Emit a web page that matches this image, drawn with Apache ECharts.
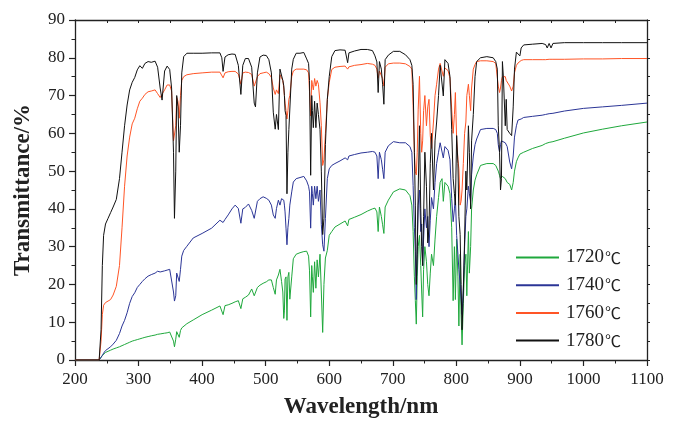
<!DOCTYPE html>
<html><head><meta charset="utf-8">
<script src="https://cdn.jsdelivr.net/npm/echarts@6/dist/echarts.min.js"></script>
<style>html,body{margin:0;padding:0;background:#fff}#c{width:679px;height:424px}</style>
</head><body><div id="c"></div>
<script>
const wavelength=[200,238,241,243,245,248,252,256,260,265,270,274,278,282,286,290,294,298,302,306,310,315,320,326,330,334,337,341,345,349,352,355,356.5,358.5,360,362,364,366,368,371,376,386,400,415,428,431,433,436,441,447,452,457,461,464,468,473,478,482,484,487,491,496,501,505,509,512,515,517,520,522.5,525,527,528.5,529.5,530.5,532,533.5,535,536.5,538,541,543.5,548,554,560,564.5,567.5,569,570.8,572.5,573.5,575,577,579,581,583,585.5,587.6,589.7,591.7,594,597,600,604,609,617,625,627.5,629,631,640,650,660,668,672,675,677,679,682,684,686,688,693,701,711,720,727,730,732,734,735.5,737,738.5,740,742,744,745.5,747,748.5,750.5,753,755,757,759,761,764,766.5,769,772,774.5,777.5,779.5,782,787,790,792.7,795,797,798.5,800.5,802.5,804,806,807.5,809,811,813,815,816.5,819,820.5,822.5,824,826.7,829.4,832,838,848,858,862,864.5,866,868,869.5,871,872.5,874,877,878.5,880,884,887,889.5,891.5,894.5,897,900,902,906,920,935,940.5,943,946,949,952,970,1000,1030,1060,1100];
const t1780=[0,0,8,25,33,36,37.5,39,40.5,42.5,48,55,62,67.5,71.5,73.5,74.8,76.8,77.9,77.2,78.5,79,78.8,79.1,77.5,72,68.8,76.5,77.8,76.9,72,55,37.5,50,70,67,55,62,76,80.3,81.2,81.2,81.2,81.3,81.3,80,76.4,80.2,80.8,81,80.9,78,70.3,78,79.8,79.8,77.5,68,67,76,80.2,80.7,80.6,79.5,76,65.6,61.1,65,61,77,77.5,74,72.6,70,66,64.7,44,55,61,60.5,77,79.6,81.2,81.2,81.4,79.7,78.5,74,48.9,70,66,61.5,68.5,61.5,68,65,61,50,33.2,37.5,57,69,75,80.3,81.9,82.1,82,81.5,78.7,81.3,81.8,82.2,82.2,81.9,80.5,78.9,70.8,79,77,73,67.7,79.5,80.7,81.7,81.7,80.8,79.5,78,73,55,41,20,28,45,62,40,30,25,38,55,46,31,35,52,60,45,58,63,70,78,78.5,69.9,79.5,78.5,75,61,48,44,41,59.4,52,38,33.2,20,8,18,32,50,45,62,55,40,58,65,75,79,80,80.3,80,79,77,62,55,45,48,79,75,62,69,61,60,59.4,67,77,81.5,81,80.5,82.6,83.4,83.6,83.8,83.5,82.6,83.8,82.6,83.8,84,84,84,84,84];
const t1760=[0,0,5,12,14.5,15.2,15.6,16,17.2,19.5,25,35,46,54,59,62.5,64,66.5,68.5,69.3,70.3,71,71.2,71.5,70.5,69.5,69.2,71.5,72.8,72.8,71.2,58,57.5,62,69.5,68.5,64,70,74,75,75.5,75.8,76,76.2,76.2,75.8,74.7,76,76.3,76.4,76.4,75.7,73,76,76.2,76.1,75.6,72.5,72,75,75.8,76,76.2,75.8,74.8,72,70.3,71.5,70.5,75.5,76,74,72,70,68,66,63.8,66,69,70,75,76.5,77,77,77,76.8,76,71,64.6,74,73,71.5,74.5,72.5,74,73,68.1,62,51.5,53,60,69,73.5,76.9,77.5,77.7,77.8,77.7,77,77.6,78,78.2,78.5,78.3,78,77,74.6,76.5,76,74.5,72.5,77.5,78.4,78.6,78.6,78.4,77.7,77,67.3,55,49.8,49,55,66.4,75.1,60,55,58,66,70,62,67,69,59.4,56,63,70,73,77,78.5,78.2,75.1,77.3,76.6,74.6,66.4,60,65,70.8,58.5,53,50.6,41,42,45,52,60,63,70,73,70,66,72,77,78.2,79,79.2,79.2,79,78.5,78,72.5,70.8,72,74,75,74.6,75,74,73.5,72.5,71.2,72.5,76,78,78.6,79,79.3,79.5,79.5,79.5,79.5,79.2,79.6,79.3,79.6,79.6,79.7,79.7,79.8,79.8];
const t1740=[0,0,0.5,1.2,1.8,2.5,3,3.5,4.2,5.2,7,9,10.5,12.5,15,16.8,17.8,19.2,20,20.8,21.5,22.2,22.6,23,23.5,23.3,23,23.6,23.8,24,23.6,18,15.6,17,23,22.5,20.8,24,27.5,29,30.1,32.3,33.5,34.9,37,36.8,36.4,37.2,38.4,40,41,40.1,36.2,40,40.4,41.3,39.6,37.5,37.5,42,42.7,43.2,42.8,42.3,41,38.4,37.5,40.1,42.3,41,42.7,42.5,42.3,41,39.2,34.9,30.5,35,37.5,41,44.5,47.1,48,48.3,48.6,47.4,46,44.5,34.9,46,44,41,46,42.7,46,42,45,35.8,30.5,28.8,37.5,48,50.6,51.5,52,52.7,53.5,54,53,54,54.4,54.8,55,55.2,55,54,48,55,53,50.5,48,55,56.7,57.8,57.5,57.5,56.5,55,46.2,35,28.8,16,30,41,45,34,36,25,32,40,35,38,30,37,43,40,47,52,55,57.5,57.6,53.5,56.5,55.5,53,42.7,36.6,40,43,33,28,24,20,16,12,19,30,38,40,46,44,42,49,54,57,58.5,61,61.3,61.3,61,60,57,55,57,58,58.5,58.5,57.5,57,56.5,52.4,50.6,54,59,62,63.5,63.8,63.8,64.2,64.5,64.8,65,64.5,65.2,64.8,65.3,65.9,66.6,67,67.4,68];
const t1720=[0,0,0.5,1.2,1.6,2,2.3,2.6,2.9,3.2,3.5,3.8,4.1,4.4,4.7,5,5.2,5.4,5.6,5.8,6,6.2,6.4,6.6,6.8,6.9,7,7.1,7.2,7.4,7.3,5,3.5,5.5,7.5,7.2,6,7.8,8.5,9,9.6,10.6,12,13.2,14.3,13.8,12,14.4,14.6,15,15.4,15.7,13.6,16.2,16.6,17.2,18.8,17,17,19.2,19.8,20.3,20.7,21.2,21.2,19.2,17.4,21.2,22.5,24,20.8,18,11,13,21.4,22,10.5,22,23.2,16.1,22,26.8,28,28.4,28.7,28.8,27.5,23.6,11.4,25,22,17.9,26,19,26.5,22,28,18,7.3,20,27,29,33,34,35.2,36,36.8,37,35.5,37.2,37.8,38.5,39.4,40,40.2,39.2,34,40.5,38,35.8,33.5,40.5,42.3,44.5,45.3,45,43.5,41,34,22,15.7,9.5,22,30,33,25,18,11.4,24,30,26,20,17,23,28,25,32,38,43,47,48,42,47,46,44,35,15.7,30,16,32,22,9,28,12,4,15,25,28,17,34,23,30,40,45,47.6,49,51.5,52,52,51.5,51,50,48.9,48,48.3,48.6,48.5,48,47.5,47,46.5,45,47,50,52.5,53.5,54.5,54.7,55,56,56.8,57.3,57.1,57.6,57.5,57.8,58.7,60.1,61.1,62,63];
const seriesTemps=['1720','1740','1760','1780'];
const unit='℃';
const seriesNames=seriesTemps.map(t=>t+unit);
const seriesColors=['#1fa83c','#2b3596','#ff5526','#111111'];
const seriesValues=[t1720,t1740,t1760,t1780];
const xTicks={min:200,max:1100,step:100};
const yTicks={min:0,max:90,step:10};

const serif="'Liberation Serif','Times New Roman',serif";
const chart=echarts.init(document.getElementById('c'),null,{renderer:'canvas'});
const axisLineStyle={color:'#222',width:1.3};
chart.setOption({
  animation:false,
  backgroundColor:'#fff',
  grid:{left:75,right:32,top:20,bottom:61,containLabel:false},
  legend:{
    orient:'vertical',left:511,top:243,itemWidth:43,itemHeight:2,itemGap:8.7,icon:'rect',
    formatter:function(name){return '{a|'+name.slice(0,4)+'}{b|'+unit+'}';},
    textStyle:{color:'#222',padding:[0,0,0,2],
      rich:{a:{fontFamily:serif,fontSize:19,color:'#222',lineHeight:18},
            b:{fontFamily:"'Noto Sans CJK SC',sans-serif",fontSize:16,color:'#222',lineHeight:18,padding:[0,0,0,1]}}},
    data:seriesNames
  },
  xAxis:[
    {type:'value',position:'bottom',min:xTicks.min,max:xTicks.max,interval:xTicks.step,
     axisLine:{show:true,onZero:false,lineStyle:axisLineStyle},
     axisTick:{show:true,inside:false,length:6,lineStyle:{color:'#222',width:1.2}},
     minorTick:{show:true,splitNumber:2,length:3.5,lineStyle:{color:'#222',width:1}},
     splitLine:{show:false},
     axisLabel:{fontFamily:serif,fontSize:17,color:'#222',margin:11,formatter:v=>String(v)},
     name:'Wavelength/nm',nameLocation:'middle',nameGap:36,
     nameTextStyle:{fontFamily:serif,fontWeight:'bold',fontSize:23,color:'#222'}},
    {type:'value',position:'top',min:xTicks.min,max:xTicks.max,interval:50,
     axisLine:{show:true,onZero:false,lineStyle:axisLineStyle},
     axisTick:{show:true,inside:true,length:3,lineStyle:{color:'#222',width:1}},
     axisLabel:{show:false},splitLine:{show:false}}
  ],
  yAxis:[
    {type:'value',position:'left',min:yTicks.min,max:yTicks.max,interval:yTicks.step,
     axisLine:{show:true,onZero:false,lineStyle:axisLineStyle},
     axisTick:{show:true,inside:false,length:6,lineStyle:{color:'#222',width:1.2}},
     minorTick:{show:true,splitNumber:2,length:3.5,lineStyle:{color:'#222',width:1}},
     splitLine:{show:false},
     axisLabel:{fontFamily:serif,fontSize:17,color:'#222',margin:10},
     name:'Transmittance/%',nameLocation:'middle',nameGap:40,nameRotate:90,
     nameTextStyle:{fontFamily:serif,fontWeight:'bold',fontSize:23,color:'#222'}},
    {type:'value',position:'right',min:yTicks.min,max:yTicks.max,interval:5,
     axisLine:{show:true,onZero:false,lineStyle:axisLineStyle},
     axisTick:{show:true,inside:false,length:3,lineStyle:{color:'#222',width:1}},
     axisLabel:{show:false},splitLine:{show:false}}
  ],
  series:seriesNames.map((n,k)=>({
    name:n,type:'line',xAxisIndex:0,yAxisIndex:0,showSymbol:false,symbol:'none',
    color:seriesColors[k],lineStyle:{width:1,color:seriesColors[k]},
    data:wavelength.map((w,i)=>[w,seriesValues[k][i]])
  }))
});
</script></body></html>
